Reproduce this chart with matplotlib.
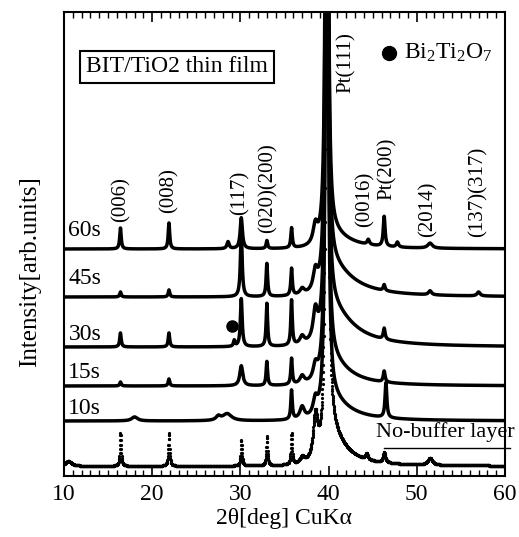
import numpy as np
import matplotlib
matplotlib.use("Agg")
import matplotlib.pyplot as plt

plt.rcParams['font.family'] = ['Liberation Serif', 'DejaVu Serif']
plt.rcParams['mathtext.default'] = 'regular'

# two-theta range of the scan
two_theta = np.arange(10.0, 60.0, 0.02)

# peak lists: position [deg], height, half width [deg]
# heights / baselines are in arbitrary (stacked) intensity units
s60_base = 227
s60_pos = [16.4, 21.9, 28.6, 30.1, 33.0, 35.8, 38.5, 39.8, 44.5, 46.3, 47.8, 51.5]
s60_h = [21, 26, 7, 31, 8, 20, 19, 1100, 5, 30, 5, 5]
s60_w = [.1, .1, .15, .15, .1, .1, .3, .12, .15, .12, .15, .3]
s60_tail = (17, 2.5)

s45_base = 179
s45_pos = [16.4, 21.9, 30.1, 33.0, 35.8, 37.0, 38.5, 39.8, 46.3, 51.5, 57.0]
s45_h = [5, 7, 64, 33, 27, 6, 20, 1100, 6, 4, 4]
s45_w = [.1, .1, .12, .1, .1, .3, .3, .12, .12, .2, .2]
s45_tail = (34, 3.0)

s30_base = 129
s30_pos = [16.4, 21.9, 29.3, 30.1, 33.0, 35.8, 37.0, 38.5, 39.8, 46.3]
s30_h = [14, 14, 6, 48, 43, 45, 8, 30, 1100, 11]
s30_w = [.1, .1, .1, .12, .1, .1, .3, .3, .12, .12]
s30_tail = (42, 3.0)

s15_base = 90
s15_pos = [16.4, 21.9, 30.1, 33.0, 35.8, 37.0, 38.5, 39.8, 46.3]
s15_h = [4, 7, 20, 24, 26, 8, 15, 1100, 11]
s15_w = [.1, .1, .2, .1, .1, .3, .3, .12, .12]
s15_tail = (28, 2.5)

s10_base = 55
s10_pos = [18.0, 27.5, 28.5, 35.8, 37.0, 38.5, 39.8, 46.5]
s10_h = [4, 4, 7, 29, 12, 16, 1100, 35]
s10_w = [.4, .3, .6, .1, .3, .3, .12, .12]
s10_tail = (24, 2.5)

nb_base = 10
nb_pos = [10.5, 16.4, 21.9, 30.1, 33.0, 35.8, 37.0, 38.5, 39.8, 44.3, 46.3, 51.5]
nb_h = [5, 33, 33, 26, 29, 31, 6, 45, 1100, 6, 10, 7]
nb_w = [.4, .08, .08, .08, .08, .08, .3, .3, .12, .15, .15, .3]
nb_tail = (36, 2.0)

sample_names = ['60s', '45s', '30s', '15s', '10s']
sample_label_y = [246, 198, 141, 103, 68]

bi2ti2o7_pos = 29.1
bi2ti2o7_y = 150

# (hkl) labels: position, bottom of text
hkl_labels = ['(006)', '(008)', '(117)', '(020)(200)', 'Pt(111)', '(0016)',
              'Pt(200)', '(2014)', '(137)(317)']
hkl_x = [16.5, 21.9, 29.9, 33.1, 42.0, 44.1, 46.7, 51.25, 56.9]
hkl_y = [254, 263, 261, 243, 383, 249, 276, 239, 239]


def pattern(base, pos, h, w, tail):
    y = np.full_like(two_theta, float(base))
    for p, hh, ww in zip(pos, h, w):
        y += hh / (1 + ((two_theta - p) / ww) ** 2)
    # asymmetric high-angle tail of the Pt(111) line
    th, tw = tail
    d = two_theta - 39.9
    wid = np.where(d > 0, tw, 0.4)
    y += th / (1 + (d / wid) ** 2)
    return y


fig = plt.figure(figsize=(5.19, 5.37), dpi=100)
ax = fig.add_axes([64 / 519, 61 / 537, 441 / 519, 464 / 537])

traces = [(s60_base, s60_pos, s60_h, s60_w, s60_tail),
          (s45_base, s45_pos, s45_h, s45_w, s45_tail),
          (s30_base, s30_pos, s30_h, s30_w, s30_tail),
          (s15_base, s15_pos, s15_h, s15_w, s15_tail),
          (s10_base, s10_pos, s10_h, s10_w, s10_tail)]
for tr in traces:
    ax.plot(two_theta, pattern(*tr), color='black', lw=2.5, solid_joinstyle='round')

# no-buffer sample drawn as raw data points
ax.plot(two_theta, pattern(nb_base, nb_pos, nb_h, nb_w, nb_tail), ls='none',
        marker='o', ms=2.3, mfc='black', mec='black', mew=0)

for name, yy in zip(sample_names, sample_label_y):
    ax.text(10.5, yy, name, fontsize=17, ha='left', va='center')

ax.plot([bi2ti2o7_pos], [bi2ti2o7_y], 'o', color='black', ms=8)

for lab, xx, yy in zip(hkl_labels, hkl_x, hkl_y):
    ax.text(xx, yy, lab, rotation=90, fontsize=15, ha='center', va='bottom')

ax.text(12.5, 409, 'BIT/TiO2 thin film', fontsize=17, ha='left', va='center',
        bbox=dict(boxstyle='square,pad=0.25', fc='white', ec='black', lw=1.5))
ax.plot([46.9], [423], 'o', color='black', ms=10)
ax.text(48.5, 423, 'Bi$_2$Ti$_2$O$_7$', fontsize=17, ha='left', va='center')

ax.text(45.4, 44, 'No-buffer layer', fontsize=16, ha='left', va='center')
ax.plot([46.3, 60.6], [28, 28], color='black', lw=1.0, clip_on=False)

ax.set_xlim(10, 60)
ax.set_ylim(0, 464)
ax.set_xticks([10, 20, 30, 40, 50, 60])
ax.set_xticks(np.arange(10, 61, 1), minor=True)
ax.set_yticks([])
ax.tick_params(axis='x', which='both', direction='in', top=True, labelsize=17, pad=6)
ax.tick_params(axis='x', which='major', length=7, width=1.2)
ax.tick_params(axis='x', which='minor', length=4, width=1.0)
for sp in ax.spines.values():
    sp.set_linewidth(1.5)

ax.set_xlabel('2θ[deg] CuKα', fontsize=17, labelpad=2)
fig.text(30 / 519, 1 - 272 / 537, 'Intensity[arb.units]', rotation=90,
         fontsize=18, ha='center', va='center')

fig.savefig('out.png', dpi=100)
